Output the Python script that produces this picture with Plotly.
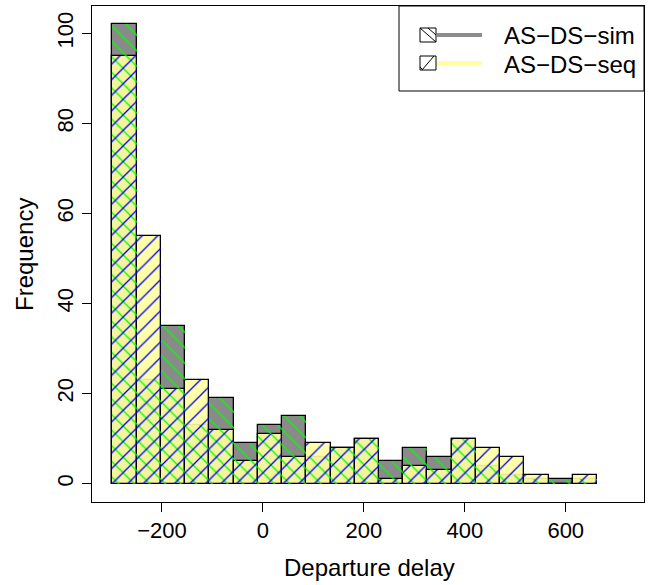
import plotly.graph_objects as go

# ---- data ----
bin_edges = [-298, -250, -202, -154, -106, -58, -10, 38, 86, 134, 182,
             230, 278, 326, 374, 422, 470, 518, 566, 614, 662]
sim_counts = [102, 23, 35, 13, 19, 9, 13, 15, 6, 8, 10, 5, 8, 6, 10, 4, 2, 1, 1, 1]
seq_counts = [95, 55, 21, 23, 12, 5, 11, 6, 9, 8, 10, 1, 4, 3, 10, 8, 6, 2, 0, 2]
series_names = ["AS−DS−sim", "AS−DS−seq"]
x_ticks = [-200, 0, 200, 400, 600]
y_ticks = [0, 20, 40, 60, 80, 100]
x_title = "Departure delay"
y_title = "Frequency"

lefts = bin_edges[:-1]
widths = [b - a for a, b in zip(bin_edges[:-1], bin_edges[1:])]

FONT = "Liberation Sans, Arial, Helvetica, sans-serif"
GRAY = "#8a8a8a"
YELLOW = "rgba(255,255,160,0.9)"

fig = go.Figure()
# sim fill
fig.add_trace(go.Bar(x=lefts, y=sim_counts, width=widths, offset=0,
                     marker=dict(color=GRAY, line=dict(color="black", width=1.3)),
                     showlegend=False, hoverinfo="skip"))
# seq fill
fig.add_trace(go.Bar(x=lefts, y=seq_counts, width=widths, offset=0,
                     marker=dict(color=YELLOW, line=dict(color="black", width=1.3)),
                     showlegend=False, hoverinfo="skip"))
# sim hatch
fig.add_trace(go.Bar(x=lefts, y=sim_counts, width=widths, offset=0,
                     marker=dict(color="rgba(0,0,0,0)", line=dict(width=0),
                                 pattern=dict(shape="\\", fgcolor="#00ff00",
                                              bgcolor="rgba(0,0,0,0)", size=11,
                                              solidity=0.12, fillmode="replace")),
                     showlegend=False, hoverinfo="skip"))
# seq hatch
fig.add_trace(go.Bar(x=lefts, y=seq_counts, width=widths, offset=0,
                     marker=dict(color="rgba(0,0,0,0)", line=dict(width=0),
                                 pattern=dict(shape="/", fgcolor="#0000ff",
                                              bgcolor="rgba(0,0,0,0)", size=11,
                                              solidity=0.12, fillmode="replace")),
                     showlegend=False, hoverinfo="skip"))

L, R, T, B = 92, 7, 6, 83
W, H = 651, 585
PW, PH = W - L - R, H - T - B


def px(x):
    return (x - L) / PW


def py(y):
    return (H - B - y) / PH


shapes = []
annotations = []
# legend box
shapes.append(dict(type="rect", xref="paper", yref="paper",
                   x0=px(399), x1=px(644), y0=py(91), y1=py(6),
                   line=dict(color="black", width=1), fillcolor="white", layer="above"))
legend_rows = [(series_names[0], 35, "#8c8c8c", "\\"), (series_names[1], 63, "#ffffa0", "/")]
for name, yc, lc, hatch in legend_rows:
    shapes.append(dict(type="line", xref="paper", yref="paper",
                       x0=px(437), x1=px(482), y0=py(yc), y1=py(yc),
                       line=dict(color=lc, width=4), layer="above"))
    sx0, sx1, sy0, sy1 = 420, 436, yc - 7, yc + 7
    shapes.append(dict(type="rect", xref="paper", yref="paper",
                       x0=px(sx0), x1=px(sx1), y0=py(sy1), y1=py(sy0),
                       line=dict(color="black", width=1), fillcolor="white", layer="above"))
    if hatch == "\\":
        segs = [((sx0, sy0), (sx1, sy1)), ((sx0 + 8, sy0), (sx1, sy0 + 7))]
    else:
        segs = [((sx0 + 2, sy1), (sx1 - 2, sy0)), ((sx0, sy1 - 3), (sx0 + 3, sy1))]
    for (a, b), (c, d) in segs:
        shapes.append(dict(type="line", xref="paper", yref="paper",
                           x0=px(a), x1=px(c), y0=py(b), y1=py(d),
                           line=dict(color="black", width=1), layer="above"))
    annotations.append(dict(text=name, xref="paper", yref="paper",
                            x=px(502), y=py(yc + 1), xanchor="left", yanchor="middle",
                            showarrow=False, font=dict(size=24, family=FONT, color="black")))

# axis titles
annotations.append(dict(text=x_title, xref="paper", yref="paper",
                        x=px(369), y=py(567), xanchor="center", yanchor="middle",
                        showarrow=False, font=dict(size=24, family=FONT, color="black")))
annotations.append(dict(text=y_title, xref="paper", yref="paper",
                        x=px(25), y=py(255), xanchor="center", yanchor="middle",
                        textangle=-90,
                        showarrow=False, font=dict(size=24, family=FONT, color="black")))

fig.update_layout(
    width=W, height=H,
    margin=dict(l=L, r=R, t=T, b=B, pad=0),
    plot_bgcolor="white", paper_bgcolor="white",
    barmode="overlay", bargap=0,
    font=dict(family=FONT, size=22, color="black"),
    shapes=shapes, annotations=annotations,
    xaxis=dict(range=[-338.6, 755], tickvals=x_ticks, ticks="outside", ticklen=9,
               tickwidth=1, tickcolor="black", showline=True, linecolor="black",
               linewidth=1, mirror=True, showgrid=False, zeroline=False,
               automargin=False),
    yaxis=dict(range=[-4.08, 106.08], tickvals=y_ticks, ticks="outside", ticklen=9,
               tickwidth=1, tickcolor="black", showline=True, linecolor="black",
               linewidth=1, mirror=True, showgrid=False, zeroline=False,
               tickangle=-90, automargin=False),
)

fig.write_html("out.html", config={"displayModeBar": False},
               post_script="document.body.style.margin='0';document.body.style.overflow='hidden';")
